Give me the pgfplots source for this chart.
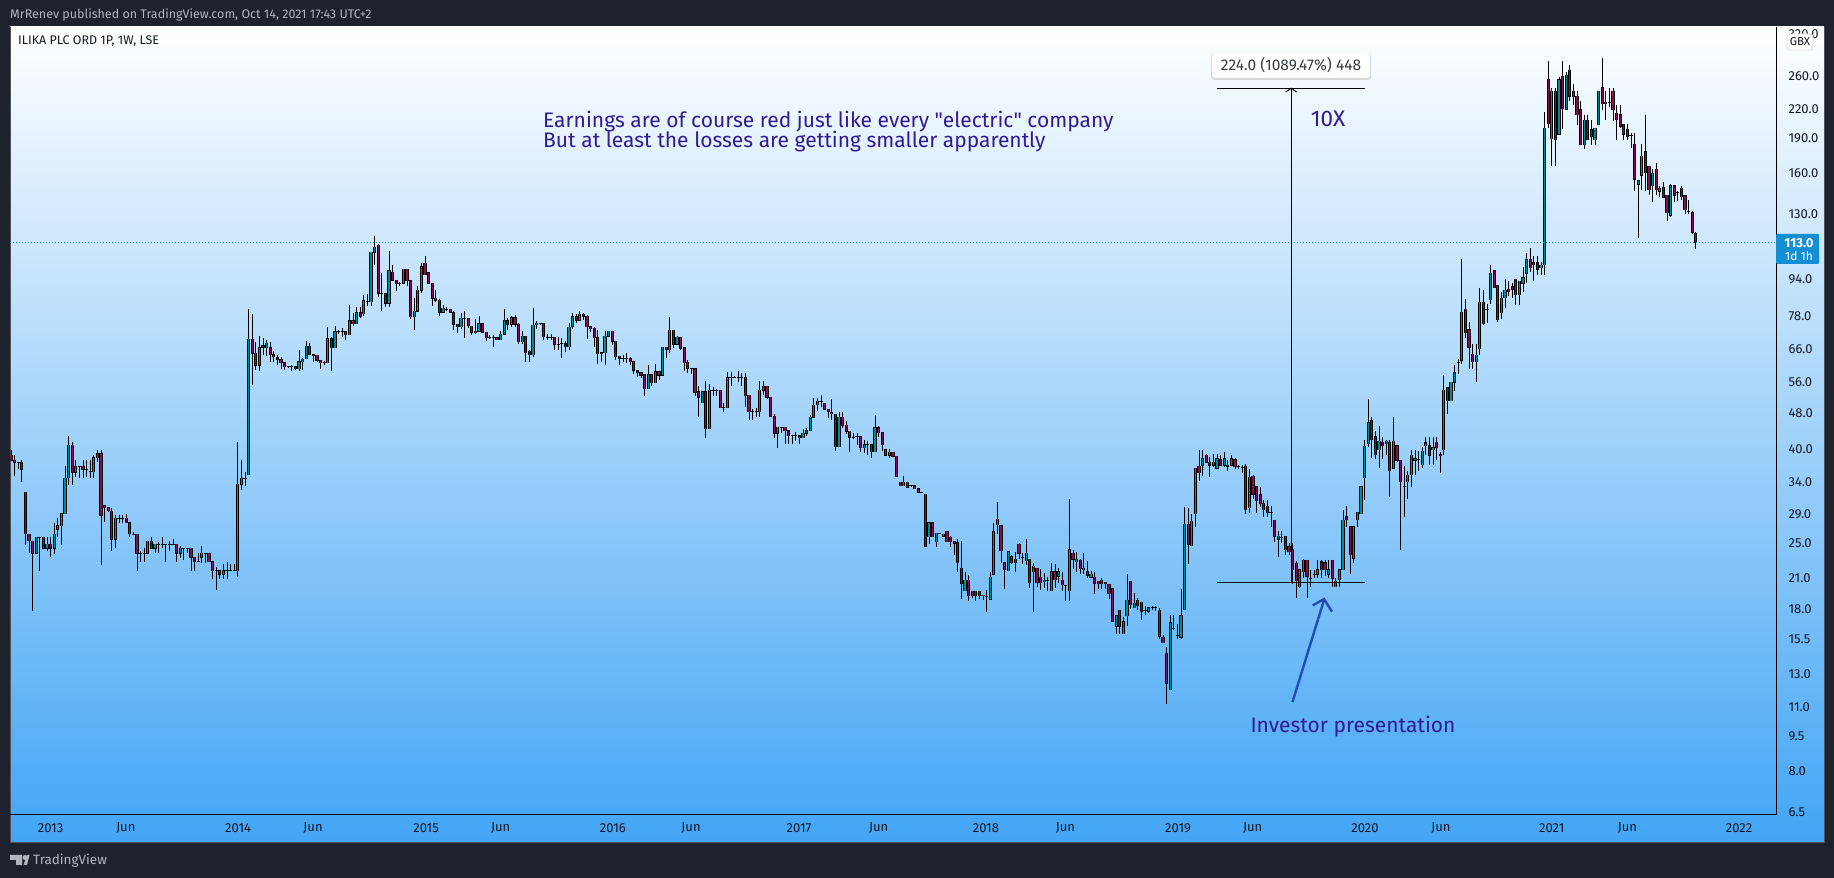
\documentclass[border=0pt]{standalone}
\usepackage{pgfplots}
\usepackage{pgfplotstable}
\usepackage{fontspec}
\setmainfont{Fira Sans}
\newfontfamily\annf{Fira Sans}
\pgfplotsset{compat=1.18}
\definecolor{bgdark}{HTML}{1E222D}
\definecolor{panelblue}{HTML}{42A5F5}
\definecolor{upc}{HTML}{008C9A}
\definecolor{dnc}{HTML}{880E4F}
\definecolor{inkc}{HTML}{311B92}
\definecolor{arrowc}{HTML}{1F4FB4}
\definecolor{tagc}{HTML}{138FD2}
\definecolor{txtc}{HTML}{131722}
\definecolor{greyc}{HTML}{B2B5BE}
\definecolor{edgec}{HTML}{50535E}
\pgfplotstableread{
i o h l c
0 38.9 40.0 37.9 37.9
1 37.9 38.9 35.1 37.5
2 37.5 37.5 36.2 37.5
3 37.5 37.9 34.0 36.2
4 32.3 32.3 24.8 26.2
5 26.2 26.2 23.8 25.3
6 25.3 25.3 17.8 23.8
7 23.8 25.8 23.8 25.8
8 25.8 25.8 21.8 25.8
9 25.8 25.8 24.4 24.4
10 24.4 25.8 24.1 24.9
11 24.9 25.8 23.4 24.4
12 24.4 27.7 23.7 26.2
13 26.8 28.4 25.8 27.3
14 27.3 29.0 24.8 29.0
15 29.0 36.8 29.0 34.7
16 34.7 42.8 33.5 40.9
17 40.9 41.5 33.5 35.7
18 35.7 37.9 34.8 36.8
19 36.8 36.8 34.7 36.8
20 36.8 37.9 34.7 36.2
21 36.2 37.9 34.8 36.2
22 35.8 37.9 34.7 35.8
23 35.8 38.9 34.7 38.4
24 38.4 40.0 37.5 39.2
25 39.2 40.0 22.4 28.8
26 30.2 30.2 27.8 29.9
27 29.9 29.9 29.3 29.4
28 29.4 29.9 24.1 25.5
29 25.5 28.8 24.4 28.4
30 28.4 28.8 27.7 28.4
31 28.4 28.8 27.7 28.4
32 28.4 29.0 27.7 27.7
33 27.7 27.7 25.8 26.2
34 26.2 26.5 26.2 26.2
35 26.2 26.2 21.8 23.8
36 23.8 24.1 22.8 23.8
37 23.8 24.4 22.8 23.8
38 23.8 25.3 23.8 25.3
39 25.3 25.8 24.4 24.4
40 24.4 24.9 23.8 24.9
41 24.9 25.2 23.8 24.9
42 24.9 25.8 24.4 24.9
43 24.9 24.9 22.8 24.9
44 24.9 25.3 24.1 24.9
45 24.9 25.5 24.9 24.9
46 24.9 24.9 22.8 23.8
47 23.8 24.7 23.2 24.4
48 24.4 24.4 23.0 24.4
49 24.4 24.4 23.8 24.4
50 24.4 24.4 21.8 23.3
51 23.3 23.3 21.8 22.8
52 22.8 23.8 22.8 22.8
53 23.3 24.7 22.7 23.8
54 23.8 23.8 22.7 23.8
55 23.8 23.8 22.8 22.8
56 22.8 22.8 20.9 21.8
57 21.8 22.2 19.8 21.8
58 21.8 21.8 20.9 21.4
59 21.4 22.6 20.9 21.8
60 21.8 22.8 20.9 21.8
61 21.8 22.6 21.8 21.8
62 21.8 22.6 21.8 21.8
63 21.8 41.6 21.1 33.6
64 33.6 37.9 32.7 34.7
65 34.7 35.8 33.3 34.7
66 35.3 80.8 35.3 69.6
67 69.6 79.1 55.3 64.8
68 64.8 68.6 59.6 61.0
69 61.0 70.8 59.3 66.7
70 67.3 69.9 64.4 66.8
71 66.7 69.2 63.8 68.2
72 66.7 68.6 62.0 64.4
73 64.4 65.5 62.0 63.6
74 63.4 64.2 61.0 62.8
75 62.8 63.5 60.0 61.8
76 61.8 61.8 59.6 60.6
77 60.6 60.6 60.2 60.6
78 60.6 61.0 59.3 60.6
79 60.6 60.6 59.6 60.0
80 60.0 66.0 59.3 62.1
81 62.1 63.3 59.7 63.0
82 63.0 68.8 63.0 67.2
83 67.2 68.4 64.4 64.4
84 64.4 64.4 62.0 64.2
85 64.2 64.4 61.9 62.6
86 62.6 62.6 60.0 61.8
87 62.0 62.2 61.0 61.7
88 61.7 74.0 61.7 69.7
89 69.7 70.3 59.2 66.6
90 66.6 74.3 66.6 72.2
91 72.2 72.9 71.5 72.2
92 72.2 73.5 70.4 72.2
93 72.2 72.2 69.4 71.0
94 71.0 82.6 71.0 76.3
95 76.3 79.3 74.4 75.1
96 75.1 81.7 75.1 79.4
97 79.4 81.7 77.3 78.0
98 79.0 86.9 78.0 84.3
99 83.9 87.4 82.0 83.9
100 83.9 107.4 82.0 107.4
101 107.4 116.6 100.9 110.4
102 111.5 112.0 86.1 87.6
103 87.6 97.0 80.1 87.6
104 87.6 87.6 81.7 83.2
105 83.2 108.0 81.7 98.0
106 97.2 100.9 93.4 93.4
107 93.4 93.4 88.5 91.9
108 92.0 92.8 90.6 92.0
109 92.0 98.7 92.0 98.7
110 98.7 98.7 90.6 93.2
111 93.2 93.2 77.0 77.7
112 77.7 85.6 73.0 80.0
113 80.0 90.6 79.6 88.8
114 88.8 101.7 87.6 100.0
115 101.7 105.3 96.0 96.0
116 97.0 97.0 92.1 92.1
117 92.1 92.1 82.0 85.4
118 85.4 88.8 84.0 84.4
119 84.6 85.2 78.0 79.6
120 79.6 82.6 79.3 81.1
121 80.8 81.8 80.0 80.8
122 80.7 81.0 79.6 79.6
123 79.4 80.0 73.0 75.0
124 75.0 75.0 71.8 74.0
125 74.0 79.3 73.2 77.3
126 77.0 80.1 70.0 77.0
127 77.0 77.3 73.5 74.3
128 74.3 74.3 71.0 72.0
129 71.9 77.0 71.5 72.3
130 72.3 78.0 72.0 75.1
131 75.1 75.5 72.0 72.0
132 72.0 72.0 69.0 70.0
133 70.0 71.1 69.5 70.0
134 70.0 71.1 67.0 70.0
135 70.0 70.0 69.4 69.4
136 69.4 72.3 69.4 71.3
137 71.3 81.0 71.3 76.3
138 76.3 77.5 73.0 75.0
139 75.0 78.3 74.0 77.5
140 77.5 78.5 74.0 75.0
141 75.0 75.5 68.0 68.6
142 68.6 72.3 68.0 70.5
143 70.5 70.5 62.0 65.0
144 65.4 66.0 62.1 64.3
145 64.3 81.1 63.7 74.7
146 74.7 76.3 73.3 75.3
147 75.3 75.6 74.5 75.3
148 75.3 75.3 69.3 70.3
149 70.3 71.3 69.3 70.3
150 70.3 71.3 69.1 70.3
151 70.3 70.3 66.0 67.6
152 67.7 70.3 66.0 67.7
153 68.0 69.8 63.4 68.0
154 68.0 69.0 65.2 67.0
155 67.0 75.5 65.8 73.9
156 73.9 79.5 73.1 77.9
157 77.9 78.9 75.5 76.5
158 76.5 80.0 76.5 78.9
159 78.9 79.5 76.5 78.0
160 78.0 78.5 69.6 74.0
161 74.0 74.0 72.0 73.3
162 73.5 74.0 67.0 70.0
163 70.0 72.7 61.5 64.6
164 65.0 65.0 62.0 64.6
165 65.0 72.5 61.2 70.6
166 70.6 72.4 70.6 72.4
167 72.4 72.4 67.7 68.8
168 68.8 68.8 62.6 63.7
169 63.9 64.0 61.0 63.2
170 63.2 64.3 62.0 63.2
171 63.2 65.0 61.8 63.2
172 63.1 63.7 61.0 62.0
173 62.2 62.2 58.5 59.5
174 59.6 59.6 57.4 58.8
175 58.8 58.8 57.3 58.0
176 58.2 58.2 52.3 54.2
177 54.2 61.0 54.2 58.2
178 58.2 58.2 55.0 55.9
179 55.9 61.3 55.9 59.1
180 59.1 59.1 56.6 58.0
181 58.0 66.8 57.7 66.8
182 66.8 66.8 63.2 65.9
183 65.9 77.7 64.8 72.8
184 72.8 72.8 66.5 67.8
185 67.8 70.8 67.8 70.3
186 70.3 70.3 65.8 66.5
187 66.6 66.6 59.2 61.8
188 62.0 62.8 58.6 60.1
189 60.2 60.2 58.4 60.2
190 60.0 60.0 52.2 53.3
191 53.4 55.0 47.2 52.0
192 50.6 53.4 50.6 53.4
193 53.4 56.4 42.3 44.4
194 44.4 55.5 44.4 53.8
195 53.8 54.6 52.4 53.8
196 53.8 54.3 52.2 53.8
197 53.8 53.8 49.3 49.3
198 49.3 50.4 48.4 49.3
199 49.3 59.1 49.3 57.3
200 57.3 59.0 55.0 57.3
201 57.4 57.8 57.2 57.4
202 57.3 59.2 56.2 57.3
203 57.3 58.8 55.0 57.3
204 57.3 58.8 49.6 52.3
205 52.5 52.5 46.5 48.3
206 48.4 49.1 46.5 48.4
207 48.4 49.2 47.2 48.4
208 48.4 56.5 47.0 53.8
209 53.8 56.5 52.6 55.0
210 55.0 55.0 51.5 52.0
211 52.0 52.0 47.3 47.3
212 47.3 47.8 42.3 43.4
213 43.4 44.7 40.3 44.7
214 44.7 44.7 43.4 44.7
215 44.7 44.7 41.2 44.0
216 44.0 44.0 41.2 42.9
217 42.9 42.9 41.2 42.9
218 42.9 43.6 41.7 42.9
219 42.9 42.9 41.2 42.4
220 42.4 44.3 42.4 43.4
221 43.4 44.5 42.8 44.0
222 44.0 47.5 44.0 47.0
223 47.0 51.7 46.8 50.0
224 50.0 51.8 48.5 51.0
225 50.9 52.6 49.4 50.9
226 50.4 50.4 48.9 48.9
227 48.9 48.9 46.9 48.3
228 48.3 51.6 46.4 47.8
229 47.8 47.8 39.7 40.6
230 40.6 48.2 40.6 47.0
231 47.0 48.4 44.5 45.2
232 45.2 46.2 43.3 43.8
233 43.8 43.8 39.5 42.5
234 42.6 43.5 42.1 42.6
235 42.7 43.4 41.0 42.7
236 42.7 42.7 39.5 40.4
237 40.4 41.9 39.3 41.0
238 41.0 41.8 39.0 41.0
239 41.0 41.0 38.3 39.5
240 39.5 47.5 39.5 44.6
241 44.6 45.1 42.5 43.5
242 43.5 43.5 39.7 41.0
243 40.0 40.0 38.9 38.9
244 38.9 40.1 38.3 39.5
245 39.5 39.5 38.7 38.7
246 38.7 38.7 35.0 35.0
247 34.0 34.0 33.4 33.4
248 33.4 35.1 33.4 34.0
249 34.0 34.0 33.0 33.0
250 33.4 33.4 33.3 33.4
251 33.4 33.5 32.9 32.9
252 32.9 32.9 32.3 32.3
253 32.3 32.3 32.2 32.3
254 32.0 32.0 24.6 24.6
255 25.8 27.7 24.9 27.7
256 27.7 27.7 25.8 25.8
257 25.2 26.3 24.6 26.3
258 26.3 26.3 26.2 26.3
259 25.9 26.2 25.9 26.2
260 26.6 26.6 25.2 25.2
261 25.8 26.0 24.6 25.2
262 25.2 25.2 23.6 25.0
263 25.1 25.6 21.7 22.7
264 22.1 25.3 18.9 20.4
265 19.7 21.7 19.7 20.8
266 20.8 21.3 18.7 19.2
267 19.7 19.7 19.0 19.2
268 19.7 19.7 18.7 19.2
269 19.7 19.7 18.9 19.2
270 19.3 19.3 18.8 19.2
271 19.2 19.8 17.7 19.2
272 18.9 21.7 18.9 21.1
273 21.4 27.7 21.4 26.5
274 27.4 30.7 26.2 28.2
275 27.3 27.3 22.7 24.1
276 22.7 22.7 19.9 21.9
277 21.8 24.0 21.8 24.0
278 23.4 23.6 22.6 22.7
279 23.1 23.9 21.7 22.7
280 24.9 25.0 23.1 23.8
281 23.3 23.8 22.6 23.3
282 22.9 25.6 22.4 23.8
283 23.1 23.1 20.0 20.5
284 21.7 22.7 17.7 22.3
285 22.1 22.1 20.1 20.5
286 21.1 22.0 19.8 20.5
287 20.6 21.6 20.0 20.8
288 20.8 21.1 19.7 20.8
289 19.7 22.7 19.7 21.7
290 21.7 22.5 20.0 20.8
291 21.2 22.1 20.5 21.7
292 20.8 21.7 19.7 20.3
293 20.3 20.3 18.7 20.3
294 19.7 31.2 18.7 24.2
295 23.8 24.2 22.0 23.1
296 22.8 24.0 21.7 23.1
297 23.0 23.1 21.4 22.0
298 21.9 23.8 21.4 22.1
299 21.7 22.9 21.0 21.3
300 21.1 21.8 21.0 21.4
301 21.1 21.7 19.4 20.4
302 20.7 20.7 19.9 20.4
303 20.8 21.0 19.9 20.4
304 20.6 20.6 19.9 20.4
305 20.4 20.4 18.9 19.4
306 19.9 19.9 16.9 16.9
307 16.5 17.4 15.9 17.4
308 17.9 17.9 15.9 16.5
309 15.9 17.3 15.9 16.9
310 17.4 21.4 16.5 18.8
311 20.7 20.7 18.0 18.4
312 18.1 19.5 18.1 18.5
313 18.8 19.0 17.9 18.3
314 18.6 18.6 17.0 17.8
315 17.9 18.3 17.5 17.9
316 17.8 18.2 17.6 18.1
317 18.1 18.3 17.9 18.1
318 18.1 18.3 17.8 18.1
319 17.9 18.1 15.5 15.7
320 15.6 15.8 15.2 15.2
321 14.4 14.9 11.2 12.4
322 12.0 17.5 12.0 16.8
323 16.3 17.5 16.2 16.3
324 15.8 16.7 15.5 15.8
325 15.6 19.9 15.5 17.4
326 17.9 30.0 17.9 27.5
327 27.5 29.8 22.5 24.9
328 24.7 29.0 24.7 27.9
329 29.0 36.4 27.2 36.4
330 36.8 40.0 34.1 35.6
331 37.0 40.0 35.1 38.2
332 38.9 39.2 37.5 37.5
333 37.6 38.5 34.9 37.0
334 37.0 39.2 36.6 37.5
335 36.4 39.2 36.2 38.2
336 38.0 38.9 37.0 37.0
337 37.0 39.6 36.6 38.2
338 37.0 38.0 35.9 36.8
339 37.0 38.9 37.0 38.2
340 38.0 38.3 36.2 36.7
341 36.8 37.0 36.2 36.8
342 36.6 37.0 35.6 36.6
343 36.8 37.2 29.0 29.6
344 29.9 36.3 29.1 34.8
345 35.0 35.2 31.2 32.0
346 33.2 33.2 29.1 31.0
347 31.9 33.2 30.0 30.5
348 30.6 31.0 28.6 29.6
349 30.1 31.0 28.6 29.1
350 29.2 30.1 27.2 29.2
351 28.1 28.1 25.2 25.9
352 25.5 26.6 23.4 25.9
353 25.7 26.6 25.0 25.7
354 25.9 25.9 23.6 24.2
355 24.6 25.0 23.6 24.0
356 24.2 25.0 20.4 21.9
357 22.6 22.9 19.0 20.7
358 20.1 21.9 20.0 21.9
359 21.7 23.1 21.0 23.0
360 23.0 23.0 19.0 21.2
361 21.0 21.9 20.1 21.0
362 21.4 21.9 21.0 21.4
363 21.4 23.0 21.0 21.9
364 22.8 23.0 21.0 21.9
365 22.7 23.0 21.2 21.9
366 21.4 23.0 21.0 21.9
367 23.0 23.0 20.1 21.0
368 20.1 21.0 20.1 20.7
369 20.8 21.9 20.1 21.9
370 21.9 29.6 21.9 28.1
371 28.6 30.1 27.2 28.1
372 27.2 27.2 21.4 23.6
373 23.2 27.2 22.7 27.2
374 28.1 29.2 27.2 29.2
375 29.0 33.2 29.0 33.2
376 34.7 42.0 31.0 40.7
377 41.2 51.6 40.5 45.8
378 46.2 47.0 38.3 42.0
379 42.7 44.0 38.2 39.0
380 39.9 45.0 36.4 41.7
381 41.5 42.7 38.2 40.8
382 41.2 42.0 39.0 41.7
383 41.5 42.0 31.5 36.0
384 36.4 47.0 36.4 41.7
385 40.8 41.0 37.5 37.9
386 37.9 37.9 24.2 34.0
387 33.2 36.8 28.6 33.2
388 34.0 36.0 31.2 35.2
389 35.2 40.0 33.2 38.9
390 37.9 40.0 35.3 38.2
391 38.0 39.8 36.0 38.0
392 37.1 40.6 36.5 39.7
393 40.8 42.5 38.9 41.4
394 40.8 42.5 37.1 38.9
395 39.9 42.5 37.0 40.4
396 41.4 42.5 37.9 40.4
397 39.0 39.5 35.6 38.9
398 39.9 58.2 39.0 53.8
399 54.6 54.6 47.7 51.0
400 51.0 56.0 51.0 56.0
401 56.0 61.0 53.7 58.8
402 62.0 62.9 58.3 62.0
403 62.5 104.1 61.5 79.6
404 80.9 85.0 70.1 71.9
405 73.0 75.7 59.8 66.8
406 64.5 68.0 59.8 62.0
407 62.0 68.0 56.1 64.1
408 66.3 89.8 64.3 83.7
409 83.7 88.9 75.0 75.1
410 80.9 83.0 75.6 80.9
411 84.6 101.0 82.8 96.8
412 98.1 98.1 90.0 90.0
413 91.0 91.0 75.9 76.7
414 79.4 88.0 76.9 85.5
415 85.5 93.9 81.2 89.0
416 89.3 93.2 86.5 88.3
417 90.5 92.0 85.5 89.3
418 93.9 93.9 82.5 86.8
419 86.8 92.9 82.5 92.9
420 92.0 100.0 88.0 94.6
421 96.8 106.9 92.0 103.8
422 103.8 109.9 97.6 99.5
423 102.0 105.6 93.0 100.9
424 102.0 105.6 95.7 98.7
425 99.5 102.5 95.7 100.9
426 100.9 217.0 95.7 200.0
427 256.0 280.0 200.0 204.5
428 190.0 245.0 165.8 240.8
429 240.8 245.0 165.8 189.0
430 194.3 259.0 194.0 255.4
431 260.0 280.4 199.0 220.8
432 220.0 265.0 220.0 260.8
433 268.0 275.0 229.0 235.0
434 240.8 249.8 224.6 234.0
435 234.7 240.8 203.9 214.0
436 219.6 229.0 184.0 184.0
437 184.0 214.0 180.0 208.5
438 208.5 214.0 189.0 189.0
439 198.7 208.5 184.0 191.8
440 189.0 200.0 184.0 200.0
441 203.9 240.8 203.9 240.8
442 245.0 284.5 219.6 226.0
443 228.3 240.8 208.5 226.0
444 227.6 245.0 223.0 227.6
445 240.8 245.0 208.0 219.6
446 216.0 225.0 189.0 209.0
447 214.0 225.0 200.0 202.0
448 203.6 204.5 189.0 194.3
449 199.0 204.0 189.0 191.8
450 193.0 195.0 181.0 193.0
451 185.0 195.0 145.8 155.0
452 151.0 154.0 115.5 154.0
453 158.0 185.0 146.8 174.0
454 178.0 214.0 145.8 160.0
455 165.7 165.7 143.0 147.0
456 149.9 163.0 138.0 159.7
457 163.0 168.0 143.0 147.0
458 146.0 150.0 142.0 148.0
459 149.0 153.0 141.5 141.5
460 143.0 143.0 126.0 131.0
461 129.5 151.0 128.0 150.0
462 150.0 150.0 138.0 143.0
463 145.0 146.0 139.0 145.0
464 148.0 150.0 139.5 141.8
465 142.8 142.8 130.0 133.0
466 131.6 140.0 130.0 131.6
467 131.0 132.5 118.0 118.8
468 118.4 119.0 109.0 113.0
}\candles
\begin{document}
\begin{tikzpicture}
\begin{scope}[x=1pt,y=-1pt,yshift=878pt]
\fill[bgdark] (0,0) rectangle (1834,878);
\shade[top color=white,bottom color=panelblue] (10,27) rectangle (1824,842);
\draw[edgec,line width=0.8pt] (10,842) -- (10,27);
\draw[edgec,line width=0.8pt] (10,842) -- (1824,842) -- (1824,27);
\end{scope}
\begin{axis}[
  at={(10pt,63pt)},anchor=south west,
  width=1766pt,height=788pt,scale only axis,
  ymode=log,
  xmin=-0.28,xmax=490.28,
  ymin=6.41,ymax=332.4,
  axis x line*=bottom,axis y line*=right,
  axis line style={line width=1pt,black,-},
  major tick length=0pt,minor tick length=0pt,
  tick style={draw=none},
  xtick={11,31.9,63.1,83.9,115.3,136,167.2,188.9,218.9,241,270.8,292.9,324.2,344.9,376.1,397.2,428,449,480},
  xticklabels={2013,Jun,2014,Jun,2015,Jun,2016,Jun,2017,Jun,2018,Jun,2019,Jun,2020,Jun,2021,Jun,2022},
  ytick={6.5,8,9.5,11,13,15.5,18,21,25,29,34,40,48,56,66,78,94,130,160,190,220,260,320},
  yticklabels={6.5,8.0,9.5,11.0,13.0,15.5,18.0,21.0,25.0,29.0,34.0,40.0,48.0,56.0,66.0,78.0,94.0,130.0,160.0,190.0,220.0,260.0,320.0},
  minor ytick={},
  log basis y=10,
  ticklabel style={font=\fontsize{13}{15}\selectfont,text=txtc},
  xticklabel style={anchor=center,yshift=-13pt},
  yticklabel style={anchor=west,xshift=9pt},
  unbounded coords=discard,
]
\addplot[forget plot,draw=none,mark=none,
  error bars/.cd,y dir=both,y explicit,error mark=none,
  error bar style={draw=black,line width=1pt}]
  table[x=i,y=c,y error plus expr=\thisrow{h}-\thisrow{c},y error minus expr=\thisrow{c}-\thisrow{l}] {\candles};
\addplot[forget plot,draw=none,mark=none,
  error bars/.cd,y dir=minus,y explicit,error mark=none,
  error bar style={draw=black,line width=3.2pt}]
  table[x=i,y expr={max(\thisrow{o},\thisrow{c})*1.002},y error minus expr={max(\thisrow{o},\thisrow{c})*1.002-min(\thisrow{o},\thisrow{c})*0.998}] {\candles};
\addplot[forget plot,draw=none,mark=none,
  x filter/.expression={\thisrow{c}>=\thisrow{o} ? x : nan},
  error bars/.cd,y dir=minus,y explicit,error mark=none,
  error bar style={draw=upc,line width=1.3pt}]
  table[x=i,y=c,y error minus expr=\thisrow{c}-\thisrow{o}] {\candles};
\addplot[forget plot,draw=none,mark=none,
  x filter/.expression={\thisrow{c}<\thisrow{o} ? x : nan},
  error bars/.cd,y dir=minus,y explicit,error mark=none,
  error bar style={draw=dnc,line width=1.3pt}]
  table[x=i,y=o,y error minus expr=\thisrow{o}-\thisrow{c}] {\candles};
% last price line
\addplot[forget plot,tagc,line width=1pt,dotted] coordinates {(-0.28,113) (490.28,113)};
% measuring tool
\addplot[forget plot,black,line width=1pt] coordinates {(335,20.56) (376.1,20.56)};
\addplot[forget plot,black,line width=1pt] coordinates {(335,244.5) (376.1,244.5)};
\addplot[forget plot,black,line width=1pt] coordinates {(355.6,20.56) (355.6,244.5)};
\addplot[forget plot,black,line width=1pt] coordinates {(354.1,240) (355.6,244.5) (357.1,240)};
\end{axis}
\begin{scope}[x=1pt,y=-1pt,yshift=878pt]
% texts around the panel
\node[anchor=west,inner sep=0pt,text=greyc,font=\fontsize{12.5}{15}\selectfont] at (10,15) {MrRenev published on TradingView.com, Oct 14, 2021 17:43 UTC+2};
\node[anchor=west,inner sep=0pt,text=txtc,font=\fontsize{12.5}{15}\selectfont] at (18,41) {ILIKA PLC ORD 1P, 1W, LSE};
% annotations
\node[anchor=west,inner sep=0pt,text=inkc,font=\annf\fontsize{21}{23}\selectfont] at (543,122) {Earnings are of course red just like every "electric" company};
\node[anchor=west,inner sep=0pt,text=inkc,font=\annf\fontsize{21}{23}\selectfont] at (543,142) {But at least the losses are getting smaller apparently};
\node[inner sep=0pt,text=inkc,font=\annf\fontsize{22.5}{24}\selectfont] at (1328,119) {10X};
\node[inner sep=0pt,text=inkc,font=\annf\fontsize{21}{23}\selectfont] at (1353,727) {Investor presentation};
\fill[black!15,rounded corners=3pt] (1211,53) rectangle (1371,80);
\fill[white,rounded corners=3pt] (1212,53) rectangle (1370,78);
\node[inner sep=0pt,text=txtc!85,font=\fontsize{15.5}{17}\selectfont] at (1291,65) {224.0 (1089.47\%) 448};
\draw[arrowc,line width=2.4pt] (1292.5,702) -- (1324,600);
\draw[arrowc,line width=2.4pt,line join=miter] (1312.7,605.5) -- (1324,599) -- (1332,611.7);
% price tag
\fill[tagc,rounded corners=1pt] (1776,234) rectangle (1819,264);
\node[inner sep=0pt,text=white,font=\fontsize{13}{15}\selectfont\bfseries] at (1799,243) {113.0};
\node[inner sep=0pt,text=white,font=\fontsize{12}{14}\selectfont] at (1799,256) {1d 1h};
% currency box
\draw[black!15,fill=white,rounded corners=3pt,line width=0.8pt] (1787,34) rectangle (1813,50);
\node[inner sep=0pt,text=txtc,font=\fontsize{11.5}{13}\selectfont] at (1800,42) {GBX};
% logo
\fill[greyc] (10,855) -- (22,855) -- (22,865) -- (16,865) -- (16,860) -- (10,860) -- cycle;
\fill[greyc] (25,857.5) circle (2.5);
\fill[greyc] (23.5,865) -- (27,855) -- (29.5,855) -- (27,865) -- cycle;
\node[anchor=west,inner sep=0pt,text=greyc,font=\fontsize{13.5}{17}\selectfont] at (33,861) {TradingView};
\end{scope}
\end{tikzpicture}
\end{document}
